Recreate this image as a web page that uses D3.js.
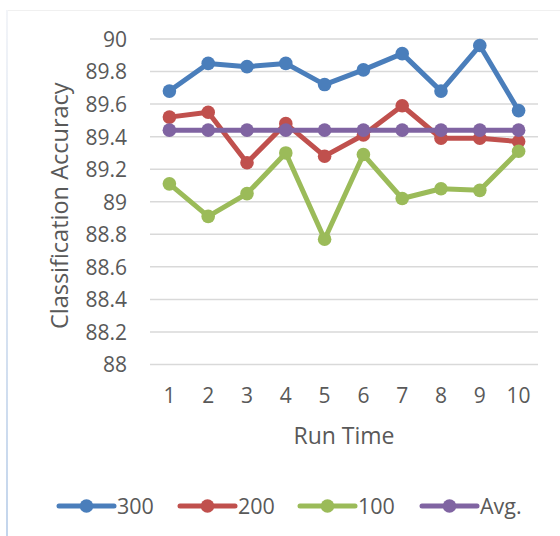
<!DOCTYPE html>
<html>
<head>
<meta charset="utf-8">
<script src="https://cdn.jsdelivr.net/npm/d3@7"></script>
<style>
  html, body { margin: 0; padding: 0; background: #fff; }
  svg { display: block; font-family: "Open Sans", "Noto Sans", sans-serif; }
</style>
</head>
<body>
<svg id="chart" width="560" height="536"></svg>
<script>
// Run indices along the x axis
const runs = ["1", "2", "3", "4", "5", "6", "7", "8", "9", "10"];

// Classification accuracy per run for each setting
const s300 = [89.68, 89.85, 89.83, 89.85, 89.72, 89.81, 89.91, 89.68, 89.96, 89.56];
const s200 = [89.52, 89.55, 89.24, 89.48, 89.28, 89.41, 89.59, 89.39, 89.39, 89.37];
const s100 = [89.11, 88.91, 89.05, 89.30, 88.77, 89.29, 89.02, 89.08, 89.07, 89.31];
const avg  = [89.44, 89.44, 89.44, 89.44, 89.44, 89.44, 89.44, 89.44, 89.44, 89.44];

const seriesNames = ["300", "200", "100", "Avg."];
const yTicks = [88, 88.2, 88.4, 88.6, 88.8, 89, 89.2, 89.4, 89.6, 89.8, 90];

const series = [
  { name: seriesNames[0], values: s300, color: "#4a7ebb" },
  { name: seriesNames[1], values: s200, color: "#c0504d" },
  { name: seriesNames[2], values: s100, color: "#9bbb59" },
  { name: seriesNames[3], values: avg,  color: "#8064a2" }
];

const svg = d3.select("#chart");
const textColor = "#595959";

// chart frame
const defs = svg.append("defs");
const grad = defs.append("linearGradient").attr("id", "frameGrad")
  .attr("x1", 0).attr("y1", 0).attr("x2", 0).attr("y2", 1);
grad.append("stop").attr("offset", "0%").attr("stop-color", "#f2f4f8");
grad.append("stop").attr("offset", "100%").attr("stop-color", "#c3d5ec");
svg.append("line").attr("x1", 7).attr("x2", 560).attr("y1", 10.5).attr("y2", 10.5)
  .attr("stroke", "#f0f0f0").attr("stroke-width", 1);
svg.append("rect").attr("x", 6).attr("y", 10).attr("width", 2).attr("height", 526)
  .attr("fill", "url(#frameGrad)");

const plot = { left: 150, right: 538, top: 39, bottom: 364.5 };

const x = d3.scaleBand().domain(runs).range([plot.left, plot.right]);
const y = d3.scaleLinear().domain([88, 90]).range([plot.bottom, plot.top]);

// horizontal gridlines
svg.append("g")
  .selectAll("line")
  .data(yTicks)
  .join("line")
  .attr("x1", plot.left).attr("x2", plot.right)
  .attr("y1", d => y(d)).attr("y2", d => y(d))
  .attr("stroke", "#d9d9d9").attr("stroke-width", 1.5);

// y axis tick labels
const yAxis = d3.axisLeft(y).tickValues(yTicks).tickSize(0).tickPadding(0)
  .tickFormat(d => d3.format("")(+d.toFixed(1)));
const yg = svg.append("g").attr("transform", `translate(${plot.left - 23},0)`).call(yAxis);
yg.select(".domain").remove();
yg.selectAll("text").attr("fill", textColor).style("font-size", "21px")
  .style("font-family", "\"Open Sans\", sans-serif").attr("dy", "0.35em");

// x axis tick labels
const xAxis = d3.axisBottom(x).tickSize(0).tickPadding(0);
const xg = svg.append("g").attr("transform", `translate(0,${plot.bottom + 24})`).call(xAxis);
xg.select(".domain").remove();
xg.selectAll("text").attr("fill", textColor).style("font-size", "21px")
  .style("font-family", "\"Open Sans\", sans-serif").attr("dy", "0.35em").attr("y", 7);

// axis titles
svg.append("text")
  .attr("transform", `translate(60,${(plot.top + plot.bottom) / 2 + 4}) rotate(-90)`)
  .attr("text-anchor", "middle").attr("dy", "0.35em")
  .attr("fill", textColor).style("font-size", "23.5px")
  .text("Classification Accuracy");
svg.append("text")
  .attr("x", (plot.left + plot.right) / 2).attr("y", 436)
  .attr("text-anchor", "middle").attr("dy", "0.35em")
  .attr("fill", textColor).style("font-size", "23px")
  .text("Run Time");

// series lines and markers
const line = d3.line()
  .x((d, i) => x(runs[i]) + x.bandwidth() / 2)
  .y(d => y(d));

const sg = svg.append("g").selectAll("g").data(series).join("g");
sg.append("path")
  .attr("d", d => line(d.values))
  .attr("fill", "none").attr("stroke", d => d.color)
  .attr("stroke-width", 5).attr("stroke-linejoin", "round").attr("stroke-linecap", "round");
sg.selectAll("circle")
  .data(d => d.values.map((v, i) => ({ v, i, color: d.color })))
  .join("circle")
  .attr("cx", d => x(runs[d.i]) + x.bandwidth() / 2)
  .attr("cy", d => y(d.v))
  .attr("r", 6.8)
  .attr("fill", d => d.color);

// legend
const legendX = [59, 180, 300, 422];
const lg = svg.append("g").selectAll("g").data(series).join("g")
  .attr("transform", (d, i) => `translate(${legendX[i]},506)`);
lg.append("line").attr("x1", 0).attr("x2", 55).attr("y1", 0).attr("y2", 0)
  .attr("stroke", d => d.color).attr("stroke-width", 5).attr("stroke-linecap", "round");
lg.append("circle").attr("cx", 27.5).attr("cy", 0).attr("r", 6.8).attr("fill", d => d.color);
lg.append("text").attr("x", 58).attr("y", 0).attr("dy", "0.35em")
  .attr("fill", textColor).style("font-size", "21.5px")
  .text(d => d.name);
</script>
</body>
</html>
